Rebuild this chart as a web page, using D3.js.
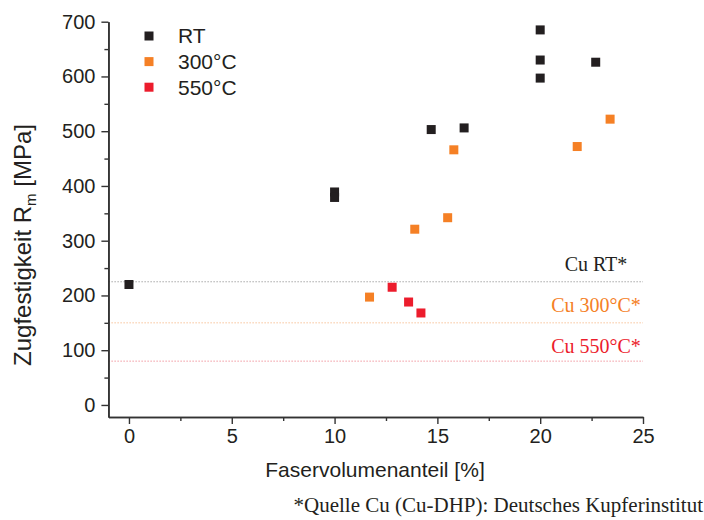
<!DOCTYPE html>
<html lang="de">
<head>
  <meta charset="UTF-8">
  <title>Zugfestigkeit</title>
  <style>
    body { margin: 0; background: #fff; }
  </style>
</head>
<body>
<script src="https://cdn.jsdelivr.net/npm/d3@7"></script>
<div id="chart"></div>
<script>
  // DATA ======================================================================
  const rtX = [0, 10, 10, 14.7, 16.3, 20, 20, 20, 22.7];
  const rtY = [220, 389, 379, 503, 506, 685, 630, 597, 626];
  const t300X = [11.7, 13.9, 15.5, 15.8, 21.8, 23.4];
  const t300Y = [197, 321, 342, 466, 472, 522];
  const t550X = [12.8, 13.6, 14.2];
  const t550Y = [215, 188, 168];

  const seriesNames = ["RT", "300°C", "550°C"];
  const seriesColors = ["#231f20", "#f58025", "#ec1c2c"];

  const refValues = [225, 150, 80];
  const refLabels = ["Cu RT*", "Cu 300°C*", "Cu 550°C*"];
  const refLineColors = ["#a8a8a8", "#f8c49c", "#f29aa2"];
  const refTextColors = ["#231f20", "#f58025", "#ec1c2c"];

  const xTicks = [0, 5, 10, 15, 20, 25];
  const xMinor = [2.5, 7.5, 12.5, 17.5, 22.5];
  const yTicks = [0, 100, 200, 300, 400, 500, 600, 700];
  const yMinor = [50, 150, 250, 350, 450, 550, 650];

  // PLOT AREA =================================================================
  const W = 704, H = 520;
  const svg = d3.select("#chart").append("svg")
      .attr("width", W).attr("height", H);

  const x = d3.scaleLinear().domain([-1, 25]).range([108.4, 643]);
  const y = d3.scaleLinear().domain([-22, 700]).range([417, 21.7]);

  const sans = "'Liberation Sans', Arial, sans-serif";
  const serif = "'Liberation Serif', 'Times New Roman', serif";
  const axisColor = "#333";

  // reference lines
  refValues.forEach((v, i) => {
    svg.append("line")
      .attr("x1", x(-1)).attr("x2", x(25))
      .attr("y1", y(v)).attr("y2", y(v))
      .attr("stroke", refLineColors[i])
      .attr("stroke-width", 1)
      .attr("stroke-dasharray", "1.5,1.5");
  });
  const refLabelY = [270.7, 311.7, 353.3];
  refLabels.forEach((t, i) => {
    svg.append("text")
      .attr("x", 596).attr("y", refLabelY[i])
      .attr("text-anchor", "middle")
      .attr("font-family", serif).attr("font-size", 20)
      .attr("fill", refTextColors[i])
      .text(t);
  });

  // AXES ======================================================================
  function styleAxis(g) {
    g.select(".domain").attr("stroke", axisColor).attr("stroke-width", 1.6);
    g.selectAll(".tick line").attr("stroke", axisColor).attr("stroke-width", 1.4);
    g.selectAll("text").attr("font-family", sans).attr("font-size", 20).attr("fill", "#231f20");
  }

  svg.append("g").attr("transform", `translate(0,${y(-22)})`)
    .call(d3.axisBottom(x).tickValues(xMinor).tickSize(4).tickSizeOuter(0).tickFormat(""))
    .call(styleAxis);
  svg.append("g").attr("transform", `translate(0,${y(-22)})`)
    .call(d3.axisBottom(x).tickValues(xTicks).tickSize(7).tickSizeOuter(0).tickPadding(5))
    .call(styleAxis);

  svg.append("g").attr("transform", `translate(${x(-1)},0)`)
    .call(d3.axisLeft(y).tickValues(yMinor).tickSize(4).tickSizeOuter(0).tickFormat(""))
    .call(styleAxis);
  svg.append("g").attr("transform", `translate(${x(-1)},0)`)
    .call(d3.axisLeft(y).tickValues(yTicks).tickSize(7).tickSizeOuter(0).tickPadding(6))
    .call(styleAxis);

  // axis titles
  svg.append("text")
    .attr("x", 375).attr("y", 477)
    .attr("text-anchor", "middle")
    .attr("font-family", sans).attr("font-size", 21).attr("fill", "#231f20")
    .text("Faservolumenanteil [%]");

  const yTitle = svg.append("text")
    .attr("transform", "translate(31,245) rotate(-90)")
    .attr("text-anchor", "middle")
    .attr("font-family", sans).attr("font-size", 24).attr("fill", "#231f20");
  yTitle.append("tspan").text("Zugfestigkeit R");
  yTitle.append("tspan").attr("font-size", 15).attr("dy", 5).text("m");
  yTitle.append("tspan").attr("dy", -5).text(" [MPa]");

  // POINTS ====================================================================
  const series = [
    d3.zip(rtX, rtY),
    d3.zip(t300X, t300Y),
    d3.zip(t550X, t550Y)
  ];
  const s = 9;
  series.forEach((pts, i) => {
    svg.append("g").selectAll("rect")
      .data(pts)
      .join("rect")
        .attr("x", d => x(d[0]) - s / 2)
        .attr("y", d => y(d[1]) - s / 2)
        .attr("width", s).attr("height", s)
        .attr("fill", seriesColors[i]);
  });

  // LEGEND ====================================================================
  const legend = svg.append("g").attr("transform", "translate(149,36)");
  seriesNames.forEach((n, i) => {
    const g = legend.append("g").attr("transform", `translate(0,${i * 25.6})`);
    g.append("rect").attr("x", -s / 2).attr("y", -s / 2)
      .attr("width", s).attr("height", s).attr("fill", seriesColors[i]);
    g.append("text").attr("x", 29).attr("dy", "0.35em")
      .attr("font-family", sans).attr("font-size", 21).attr("fill", "#231f20")
      .text(n);
  });

  // footnote
  svg.append("text")
    .attr("x", 703).attr("y", 512)
    .attr("text-anchor", "end")
    .attr("font-family", serif).attr("font-size", 21).attr("fill", "#231f20")
    .text("*Quelle Cu (Cu-DHP): Deutsches Kupferinstitut");
</script>
</body>
</html>
